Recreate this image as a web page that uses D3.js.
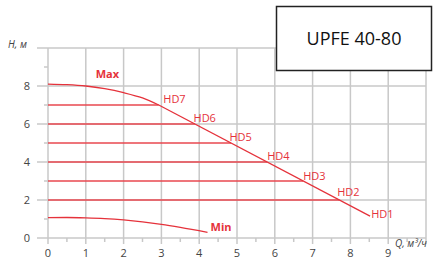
<!DOCTYPE html>
<html>
<head>
<meta charset="utf-8">
<script src="https://cdn.jsdelivr.net/npm/d3@7"></script>
<style>
  body { margin: 0; background: #fff; }
  svg { display: block; font-family: "Open Sans", "Noto Sans", sans-serif; }
</style>
</head>
<body>
<script>
const width = 436;
const height = 262;

// chart data
const xTicks = [0, 1, 2, 3, 4, 5, 6, 7, 8, 9];
const yTicks = [0, 2, 4, 6, 8];
const maxCurve = [[0, 8.1], [0.5, 8.07], [1, 8.0], [1.5, 7.86], [2, 7.65], [2.5, 7.37], [2.93, 7.0]];
const hdLine = [[2.93, 7.0], [8.52, 1.15]];
const minCurve = [[0, 1.07], [0.5, 1.08], [1, 1.06], [1.5, 1.02], [2, 0.95], [2.5, 0.85], [3, 0.72], [3.5, 0.56], [4.22, 0.3]];
const hdLevels = [7, 6, 5, 4, 3, 2];
const hdNames = ["HD7", "HD6", "HD5", "HD4", "HD3", "HD2", "HD1"];
const hdLabelPos = [[3.05, 7.1], [3.85, 6.1], [4.8, 5.1], [5.8, 4.1], [6.75, 3.05], [7.65, 2.2], [8.55, 1.05]];

const margin = {left: 48, right: 10, top: 48, bottom: 24};
const red = "#e5323b";

const x = d3.scaleLinear().domain([0, 10]).range([margin.left, 426]);
const y = d3.scaleLinear().domain([0, 10]).range([238, margin.top]);

const svg = d3.select("body").append("svg")
    .attr("width", width)
    .attr("height", height);

const grid = svg.append("g").attr("stroke", "#c8c8c8").attr("stroke-width", 1.5);

// vertical grid lines
grid.selectAll(".vx")
    .data(d3.range(0, 11))
    .enter().append("line")
    .attr("x1", d => x(d)).attr("x2", d => x(d))
    .attr("y1", y(10)).attr("y2", y(0) + 6);

// x minor ticks
grid.selectAll(".mx")
    .data(d3.range(0.5, 10, 1))
    .enter().append("line")
    .attr("x1", d => x(d)).attr("x2", d => x(d))
    .attr("y1", y(0)).attr("y2", y(0) + 4);

// horizontal grid lines
grid.selectAll(".hy")
    .data(d3.range(0, 11, 2))
    .enter().append("line")
    .attr("x1", x(0) - 11).attr("x2", x(10))
    .attr("y1", d => y(d)).attr("y2", d => y(d));

// y minor ticks
grid.selectAll(".my")
    .data(d3.range(1, 10, 2))
    .enter().append("line")
    .attr("x1", x(0) - 4).attr("x2", x(0))
    .attr("y1", d => y(d)).attr("y2", d => y(d));

// tick labels
svg.append("g").selectAll("text")
    .data(xTicks)
    .enter().append("text")
    .attr("x", d => x(d))
    .attr("y", y(0) + 19)
    .attr("text-anchor", "middle")
    .attr("font-size", 11)
    .attr("fill", "#444")
    .text(d => d);

svg.append("g").selectAll("text")
    .data(yTicks)
    .enter().append("text")
    .attr("x", 30)
    .attr("y", d => y(d) + 4)
    .attr("text-anchor", "end")
    .attr("font-size", 11)
    .attr("fill", "#444")
    .text(d => d);

// axis titles
svg.append("text")
    .attr("x", 8).attr("y", 48)
    .attr("font-size", 10).attr("font-style", "italic").attr("fill", "#444")
    .text("H, м");

svg.append("text")
    .attr("x", 395).attr("y", 247)
    .attr("font-size", 10).attr("font-style", "italic").attr("fill", "#444")
    .text("Q, м³/ч");

// HD horizontal lines up to the diagonal
const hdX = h => hdLine[0][0] + (hdLine[0][1] - h) * (hdLine[1][0] - hdLine[0][0]) / (hdLine[0][1] - hdLine[1][1]);
svg.append("g").selectAll("line")
    .data(hdLevels)
    .enter().append("line")
    .attr("x1", x(0)).attr("x2", d => x(hdX(d)))
    .attr("y1", d => y(d)).attr("y2", d => y(d))
    .attr("stroke", "#e8474f")
    .attr("stroke-width", 1.6);

const line = d3.line().x(d => x(d[0])).y(d => y(d[1])).curve(d3.curveMonotoneX);

[maxCurve, hdLine, minCurve].forEach(c => {
    svg.append("path")
        .datum(c)
        .attr("fill", "none")
        .attr("stroke", red)
        .attr("stroke-width", 1.3)
        .attr("d", line);
});

// curve labels
svg.append("g").selectAll("text")
    .data(hdNames)
    .enter().append("text")
    .attr("x", (d, i) => x(hdLabelPos[i][0]))
    .attr("y", (d, i) => y(hdLabelPos[i][1]))
    .attr("font-size", 11)
    .attr("fill", red)
    .text(d => d);

svg.append("text")
    .attr("x", x(1.26)).attr("y", y(8.4))
    .attr("font-size", 11).attr("font-weight", "bold").attr("fill", red)
    .text("Max");

svg.append("text")
    .attr("x", x(4.3)).attr("y", y(0.35))
    .attr("font-size", 11).attr("font-weight", "bold").attr("fill", red)
    .text("Min");

// model box
svg.append("rect")
    .attr("x", 276.5).attr("y", 6.5)
    .attr("width", 155).attr("height", 64)
    .attr("fill", "#fff")
    .attr("stroke", "#222")
    .attr("stroke-width", 1.5);

svg.append("text")
    .attr("x", 354).attr("y", 45)
    .attr("text-anchor", "middle")
    .attr("font-size", 18)
    .attr("fill", "#111")
    .text("UPFE 40-80");
</script>
</body>
</html>
